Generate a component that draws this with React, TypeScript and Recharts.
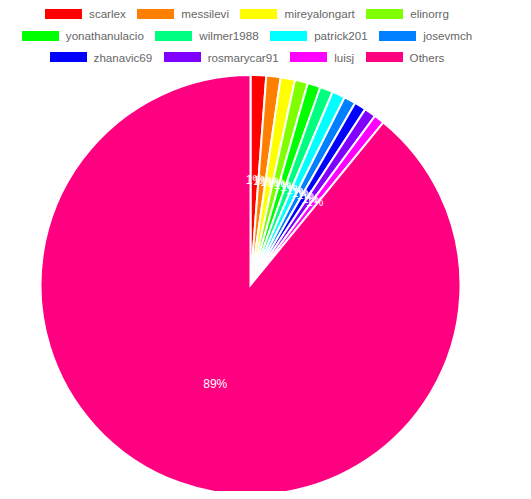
import React from "react";
import { PieChart, Pie, Cell } from "recharts";

// share of each user (per 1000)
const users = [
  "scarlex",
  "messilevi",
  "mireyalongart",
  "elinorrg",
  "yonathanulacio",
  "wilmer1988",
  "patrick201",
  "josevmch",
  "zhanavic69",
  "rosmarycar91",
  "luisj",
  "Others",
];
const counts = [12, 11, 11, 10, 10, 10, 10, 9, 9, 9, 8, 891];
const colors = [
  "#ff0000",
  "#ff8000",
  "#ffff00",
  "#80ff00",
  "#00ff00",
  "#00ff80",
  "#00ffff",
  "#0080ff",
  "#0000ff",
  "#8000ff",
  "#ff00ff",
  "#ff0080",
];

const data = users.map((name, i) => ({ name, value: counts[i] }));
const total = counts.reduce((a, b) => a + b, 0);
const RAD = Math.PI / 180;
const FONT = "Arial, 'Liberation Sans', sans-serif";

const renderLabel = (props: any) => {
  const { cx, cy, midAngle, outerRadius, value } = props;
  const r = outerRadius * 0.5;
  const x = cx + r * Math.cos(-midAngle * RAD);
  const y = cy + r * Math.sin(-midAngle * RAD);
  return (
    <text
      x={x}
      y={y}
      fill="#fff"
      textAnchor="middle"
      dominantBaseline="central"
      fontSize={12}
      fontFamily={FONT}
    >
      {Math.round((value / total) * 100)}%
    </text>
  );
};

// legend drawn in rows of four, like the original
const ChartLegend = () => {
  const rows: number[][] = [];
  for (let i = 0; i < users.length; i += 4) rows.push(users.slice(i, i + 4).map((_, j) => i + j));
  return (
    <div
      style={{
        position: "absolute",
        top: 3,
        left: 0,
        width: 494,
        fontFamily: FONT,
        fontSize: 11.6,
        color: "#666",
      }}
    >
      {rows.map((row, ri) => (
        <div
          key={ri}
          style={{ display: "flex", justifyContent: "center", height: 21.8, alignItems: "center" }}
        >
          {row.map((idx) => (
            <div key={users[idx]} style={{ display: "flex", alignItems: "center", margin: "0 5.75px" }}>
              <span
                style={{
                  display: "inline-block",
                  width: 37,
                  height: 10,
                  background: colors[idx],
                  marginRight: 7,
                }}
              />
              <span>{users[idx]}</span>
            </div>
          ))}
        </div>
      ))}
    </div>
  );
};

const App = () => {
  return (
    <div style={{ position: "relative", width: 531, height: 499, margin: -8, background: "#fff" }}>
      <div style={{ position: "absolute", top: 0, left: 0 }}>
        <PieChart width={500} height={499} margin={{ top: 0, right: 0, bottom: 0, left: 0 }}>
          <Pie
            data={data}
            dataKey="value"
            nameKey="name"
            cx={250.5}
            cy={285}
            outerRadius={210}
            startAngle={90}
            endAngle={-270}
            stroke="#fff"
            strokeWidth={2}
            labelLine={false}
            label={renderLabel}
            isAnimationActive={false}
          >
            {data.map((d, i) => (
              <Cell key={d.name} fill={colors[i]} />
            ))}
          </Pie>
        </PieChart>
      </div>
      <ChartLegend />
      <div
        style={{ position: "absolute", left: 0, top: 497, width: 531, height: 2, background: "#d0d0d0" }}
      />
    </div>
  );
};

export default App;
